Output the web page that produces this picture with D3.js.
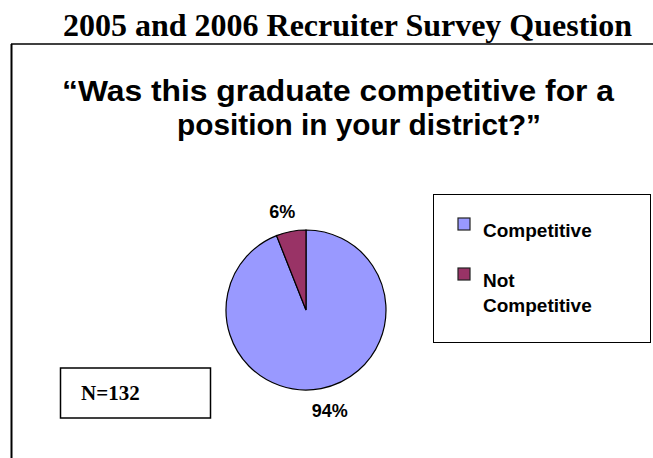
<!DOCTYPE html>
<html>
<head>
<meta charset="utf-8">
<script src="https://cdn.jsdelivr.net/npm/d3@7"></script>
<style>
  body { margin: 0; background: #fff; }
  svg { display: block; }
</style>
</head>
<body>
<div id="chart"></div>
<script>
// survey answers
const categories = ["Competitive", "Not Competitive"];
const values = [94, 6];
const colors = ["#9999FF", "#993366"];
const legendLines = [["Competitive"], ["Not", "Competitive"]];
const titleText = "2005 and 2006 Recruiter Survey Question";
const questionLines = ["\u201cWas this graduate competitive for a", "position in your district?\u201d"];
const sampleText = "N=132";

const width = 653, height = 458;
const svg = d3.select("#chart").append("svg")
    .attr("width", width)
    .attr("height", height);

// page title
svg.append("text")
    .attr("x", 63).attr("y", 36)
    .attr("textLength", 569)
    .attr("lengthAdjust", "spacingAndGlyphs")
    .style("font-family", "'Liberation Serif', 'Times New Roman', serif")
    .style("font-weight", "bold")
    .style("font-size", "32px")
    .text(titleText);

// outer frame: top and left lines only
svg.append("line").attr("x1", 11).attr("x2", width).attr("y1", 44).attr("y2", 44)
    .style("stroke", "#000").style("stroke-width", 1.5);
svg.append("line").attr("x1", 11.5).attr("x2", 11.5).attr("y1", 44).attr("y2", height)
    .style("stroke", "#000").style("stroke-width", 2);

// question
const qPos = [{x: 62, y: 101, len: 552}, {x: 177, y: 135, len: 364}];
svg.append("g").selectAll("text").data(questionLines).enter()
    .append("text")
    .attr("x", (d, i) => qPos[i].x)
    .attr("y", (d, i) => qPos[i].y)
    .attr("textLength", (d, i) => qPos[i].len)
    .attr("lengthAdjust", "spacingAndGlyphs")
    .style("font-family", "'Liberation Sans', Arial, sans-serif")
    .style("font-weight", "bold")
    .style("font-size", "29px")
    .text(d => d);

// pie
const cx = 306, cy = 310, r = 80;
const pie = d3.pie().sort(null).value(d => d)
    .startAngle(0).endAngle(2 * Math.PI);
const arcs = pie(values);
const arc = d3.arc().innerRadius(0).outerRadius(r);
const labelArc = d3.arc().innerRadius(101).outerRadius(101);

const g = svg.append("g").attr("transform", "translate(" + cx + "," + cy + ")");
g.selectAll("path").data(arcs).enter()
    .append("path")
    .attr("d", arc)
    .style("fill", (d, i) => colors[i])
    .style("stroke", "#000")
    .style("stroke-width", 1.2);

// labels sit a little wider than the slice middle, like the original
g.selectAll("text").data(arcs).enter()
    .append("text")
    .attr("transform", d => {
        let c = labelArc.centroid(d);
        return "translate(" + (c[0] * 1.25) + "," + c[1] + ")";
    })
    .attr("text-anchor", "middle")
    .attr("dy", "0.42em")
    .style("font-family", "'Liberation Sans', Arial, sans-serif")
    .style("font-weight", "bold")
    .style("font-size", "18px")
    .text(d => d.value + "%");

// legend
const legend = svg.append("g");
legend.append("rect")
    .attr("x", 433.5).attr("y", 194.5).attr("width", 217).attr("height", 148)
    .style("fill", "#fff").style("stroke", "#000").style("stroke-width", 1);

const legendY = d3.scalePoint().domain(categories).range([218, 268]);
const items = legend.selectAll("g.item").data(categories).enter()
    .append("g").attr("class", "item")
    .attr("transform", d => "translate(0," + legendY(d) + ")");
items.append("rect")
    .attr("x", 458).attr("y", 0).attr("width", 12).attr("height", 12)
    .style("fill", (d, i) => colors[i])
    .style("stroke", "#222").style("stroke-width", 1.2);
items.each(function(d, i) {
    d3.select(this).selectAll("text").data(legendLines[i]).enter()
        .append("text")
        .attr("x", 483)
        .attr("y", (t, j) => 19 + j * 25)
        .style("font-family", "'Liberation Sans', Arial, sans-serif")
        .style("font-weight", "bold")
        .style("font-size", "19px")
        .text(t => t);
});

// sample size box
svg.append("rect")
    .attr("x", 60.5).attr("y", 368).attr("width", 150).attr("height", 50)
    .style("fill", "#fff").style("stroke", "#000").style("stroke-width", 1.5);
svg.append("text")
    .attr("x", 81).attr("y", 400)
    .style("font-family", "'Liberation Serif', 'Times New Roman', serif")
    .style("font-weight", "bold")
    .style("font-size", "21px")
    .text(sampleText);
</script>
</body>
</html>
